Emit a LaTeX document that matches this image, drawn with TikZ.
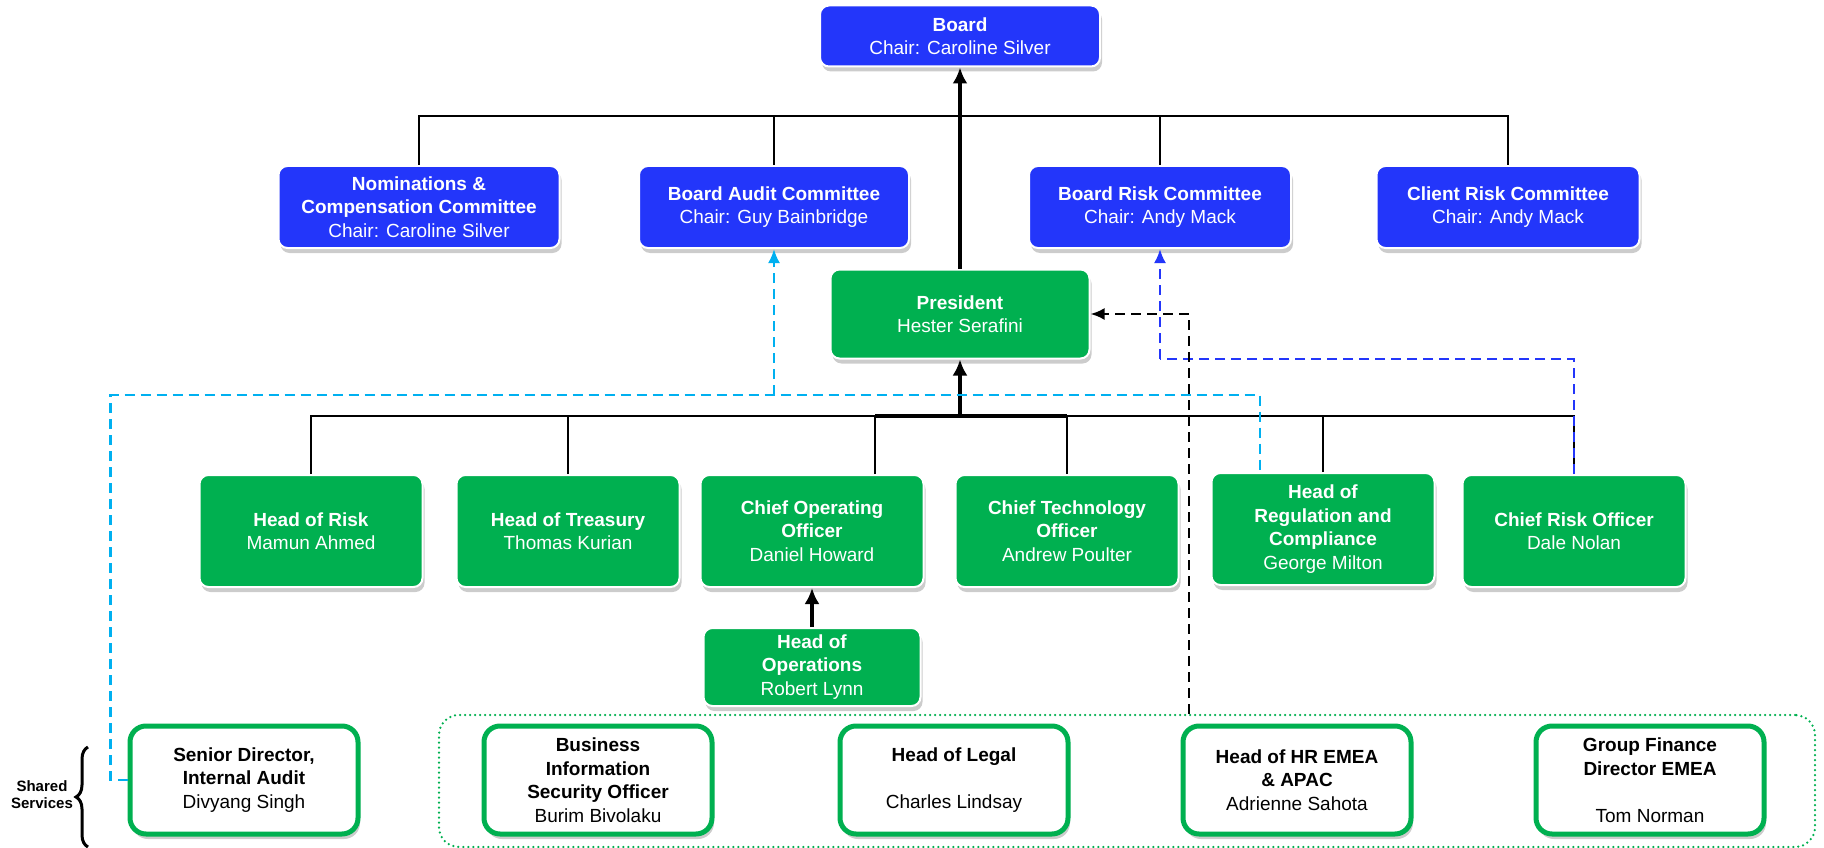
\documentclass[tikz,border=0pt]{standalone}
\usepackage{fontspec}
\setmainfont{Liberation Sans}
\usetikzlibrary{arrows.meta,shadows,decorations.pathreplacing}

\definecolor{brdblue}{RGB}{35,54,250}
\definecolor{exgreen}{RGB}{0,176,80}
\definecolor{audblue}{RGB}{0,176,240}

\begin{document}
\begin{tikzpicture}[x=1pt,y=-1pt,>={Latex[length=16pt,width=15pt]},line width=2pt,
                    font=\fontsize{19}{23.5}\selectfont]
  \tikzstyle{cmte}=[rectangle,rounded corners=9pt,fill=brdblue,draw=white,
                    line width=2pt,text=white,align=center,inner sep=2pt,
                    minimum height=82pt,
                    drop shadow={shadow xshift=2pt,shadow yshift=-5pt,opacity=0.4}]
  \tikzstyle{mgr}=[cmte,fill=exgreen,minimum width=223pt,minimum height=112pt]
  \tikzstyle{svc}=[cmte,fill=white,draw=exgreen,line width=5pt,text=black,
                   rounded corners=16pt,minimum width=228pt,minimum height=108pt]
  \tikzstyle{grpbox}=[rectangle,rounded corners=20pt,draw=exgreen,line width=2.5pt,
                      dash pattern=on 0pt off 5pt,line cap=round,
                      minimum width=1376pt,minimum height=132pt]
  \tikzstyle{audline}=[audblue,line width=2.5pt,dash pattern=on 10pt off 6pt,
                       >={Latex[length=14pt,width=12pt]}]
  \tikzstyle{riskline}=[audline,brdblue]
  \tikzstyle{hrline}=[audline,black]

  \useasboundingbox (0,0) rectangle (1824,848);

  % board and committees
  \node[cmte,minimum width=280pt,minimum height=61pt] (board) at (960,36)
       {\textbf{Board}\\Chair: Caroline Silver};
  \node[cmte,minimum width=281pt] (nom) at (419,207)
       {\textbf{Nominations \&}\\\textbf{Compensation Committee}\\Chair: Caroline Silver};
  \node[cmte,minimum width=270pt] (bac) at (774,207)
       {\textbf{Board Audit Committee}\\Chair: Guy Bainbridge};
  \node[cmte,minimum width=262pt] (brc) at (1160,207)
       {\textbf{Board Risk Committee}\\Chair: Andy Mack};
  \node[cmte,minimum width=263pt] (crc) at (1508,207)
       {\textbf{Client Risk Committee}\\Chair: Andy Mack};

  % executives
  \node[mgr,minimum width=259pt,minimum height=89pt] (pres) at (960,314)
       {\textbf{President}\\Hester Serafini};
  \node[mgr] (hrisk) at (311,531) {\textbf{Head of Risk}\\Mamun Ahmed};
  \node[mgr] (treas) at (568,531) {\textbf{Head of Treasury}\\Thomas Kurian};
  \node[mgr] (coo)   at (812,531) {\textbf{Chief Operating}\\\textbf{Officer}\\Daniel Howard};
  \node[mgr] (cto)   at (1067,531) {\textbf{Chief Technology}\\\textbf{Officer}\\Andrew Poulter};
  \node[mgr] (hreg)  at (1323,529)
       {\textbf{Head of}\\\textbf{Regulation and}\\\textbf{Compliance}\\George Milton};
  \node[mgr] (cro)   at (1574,531) {\textbf{Chief Risk Officer}\\Dale Nolan};
  \node[mgr,minimum width=217pt,minimum height=78pt] (hops) at (812,667)
       {\textbf{Head of}\\\textbf{Operations}\\Robert Lynn};

  % shared services
  \node[grpbox] (grp) at (1127,781) {};
  \node[svc] (sda)   at (244,780) {\textbf{Senior Director,}\\\textbf{Internal Audit}\\Divyang Singh};
  \node[svc] (biso)  at (598,780)
       {\textbf{Business}\\\textbf{Information}\\\textbf{Security Officer}\\Burim Bivolaku};
  \node[svc] (legal) at (954,780) {\textbf{Head of Legal}\\[23.5pt]Charles Lindsay};
  \node[svc] (hr)    at (1297,780) {\textbf{Head of HR EMEA}\\\textbf{\& APAC}\\Adrienne Sahota};
  \node[svc] (gfd)   at (1650,780) {\textbf{Group Finance}\\\textbf{Director EMEA}\\[23.5pt]Tom Norman};

  \node[font=\fontsize{15}{17}\selectfont\bfseries,align=center] (shs) at (42,795)
       {Shared\\Services};
  \draw[decorate,decoration={brace,amplitude=12pt},line width=3pt] (88,847) -- (88,747);

  % solid reporting lines
  \coordinate (cbar) at (0,116);
  \draw (nom.north) |- (crc.north |- cbar) -- (crc.north);
  \draw (bac.north) -- (bac.north |- cbar);
  \draw (brc.north) -- (brc.north |- cbar);
  \draw[->,line width=4pt] (pres.north) -- (board.south);

  \coordinate (mbar) at (0,416);
  \draw (hrisk.north) |- (cro.north |- mbar) -- (cro.north);
  \draw (treas.north) -- (treas.north |- mbar);
  \draw ([xshift=63pt]coo.north) -- ([xshift=63pt]coo.north |- mbar);
  \draw (cto.north) -- (cto.north |- mbar);
  \draw (hreg.north) -- (hreg.north |- mbar);
  \draw[line width=4pt] ([xshift=63pt]coo.north |- mbar) -- (cto.north |- mbar);
  \draw[->,line width=4pt] (pres.south |- mbar) -- (pres.south);
  \draw[->,line width=4pt] (hops.north) -- (coo.south);

  % dotted reporting lines
  \coordinate (audj) at (774,395);
  \draw[audline] (sda.west) -- ++(-17,0) |- (audj) -| ([xshift=-63pt]hreg.north);
  \draw[audline,->] (audj) -- (bac.south);
  \coordinate (riskj) at (1160,359);
  \draw[riskline] (cro.north) |- (riskj);
  \draw[riskline,->] (riskj) -- (brc.south);
  \draw[hrline,->] ([xshift=62pt]grp.north) |- (pres.east);
\end{tikzpicture}
\end{document}
